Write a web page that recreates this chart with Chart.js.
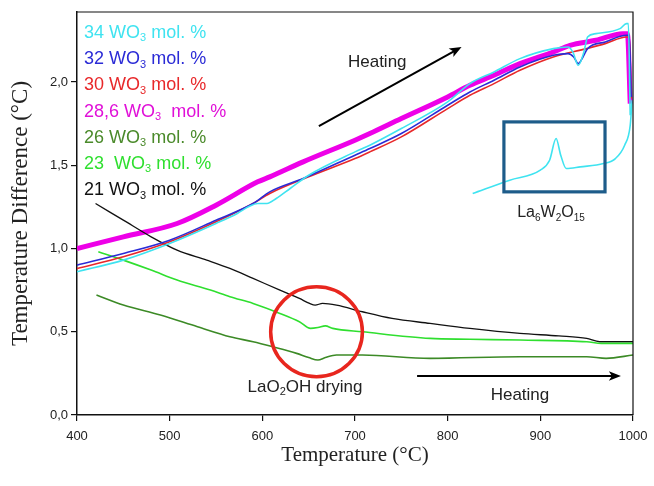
<!DOCTYPE html>
<html lang="en">
<head>
<meta charset="UTF-8">
<title>DTA curves - WO3 content</title>
<script src="https://cdn.jsdelivr.net/npm/chart.js"></script>
<style>
  html, body { margin: 0; padding: 0; background: #fff; }
</style>
</head>
<body>
<canvas id="dta" width="654" height="486"></canvas>
<script>
// --- data (temperature in °C, difference in °C) ---
const t34 = [400, 450, 500, 550, 573, 585, 595, 605, 615, 630, 650, 700, 716, 750, 800, 824, 850, 878, 914, 930, 935, 941, 947, 951, 960, 986, 993, 995, 997];
const v34 = [0.86, 0.93, 1.03, 1.15, 1.21, 1.25, 1.27, 1.27, 1.30, 1.36, 1.44, 1.58, 1.62, 1.72, 1.88, 1.99, 2.06, 2.14, 2.20, 2.21, 2.18, 2.10, 2.18, 2.27, 2.29, 2.32, 2.35, 2.35, 1.80];

const t32 = [400, 450, 500, 550, 590, 608, 644, 700, 716, 750, 800, 824, 850, 878, 914, 930, 936, 941, 946, 951, 970, 993, 996, 998];
const v32 = [0.90, 0.97, 1.05, 1.17, 1.27, 1.34, 1.42, 1.56, 1.60, 1.69, 1.86, 1.94, 2.01, 2.09, 2.16, 2.17, 2.15, 2.11, 2.15, 2.20, 2.24, 2.28, 2.28, 1.91];

const t30 = [400, 450, 500, 550, 590, 608, 650, 700, 716, 750, 800, 824, 850, 878, 914, 950, 970, 993, 996, 998];
const v30 = [0.88, 0.95, 1.04, 1.16, 1.27, 1.33, 1.43, 1.54, 1.58, 1.67, 1.84, 1.92, 1.99, 2.07, 2.15, 2.20, 2.23, 2.27, 2.27, 1.90];

const t286 = [400, 450, 508, 550, 595, 608, 644, 700, 716, 750, 800, 824, 850, 878, 914, 932, 960, 989, 994, 997];
const v286 = [1.00, 1.07, 1.15, 1.26, 1.40, 1.43, 1.52, 1.65, 1.69, 1.78, 1.91, 1.98, 2.04, 2.11, 2.18, 2.22, 2.25, 2.29, 2.29, 1.87];

const t26 = [421, 450, 490, 530, 565, 590, 611, 637, 650, 660, 668, 680, 708, 781, 878, 950, 971, 1000];
const v26 = [0.72, 0.66, 0.60, 0.53, 0.47, 0.44, 0.41, 0.37, 0.345, 0.33, 0.345, 0.36, 0.36, 0.34, 0.35, 0.35, 0.34, 0.36];

const t23 = [423, 450, 480, 508, 544, 565, 590, 619, 640, 652, 660, 668, 676, 708, 781, 824, 878, 950, 966, 1000];
const v23 = [0.98, 0.93, 0.87, 0.81, 0.75, 0.71, 0.67, 0.61, 0.56, 0.52, 0.525, 0.535, 0.52, 0.50, 0.46, 0.455, 0.45, 0.44, 0.43, 0.43];

const t21 = [420, 450, 480, 508, 540, 565, 590, 619, 640, 651, 657, 665, 680, 708, 740, 781, 824, 878, 920, 950, 964, 980, 1000];
const v21 = [1.27, 1.17, 1.07, 0.99, 0.93, 0.88, 0.82, 0.75, 0.70, 0.67, 0.66, 0.67, 0.66, 0.62, 0.58, 0.55, 0.52, 0.49, 0.475, 0.46, 0.44, 0.44, 0.44];

// enlarged La6W2O15 trace (cyan, near the box)
const tInset = [827, 867, 900, 910, 917, 922, 928, 943, 968, 981, 991, 997, 999];
const vInset = [1.33, 1.41, 1.47, 1.53, 1.66, 1.56, 1.48, 1.49, 1.51, 1.54, 1.62, 1.74, 1.89];

const seriesNames = ['34', '32', '30', '28,6', '26', '23 ', '21'];
const seriesColors = ['#3fe3f0', '#2b2bd6', '#e8282a', '#ee00e8', '#3c8a26', '#2fdf2f', '#111111'];
const legendColors = ['#3fe3f0', '#2b2bd6', '#e8282a', '#e010d8', '#4a8a2a', '#2fdf2f', '#111111'];

const xTicks = [400, 500, 600, 700, 800, 900, 1000];
const yMax = 2.42;

const SANS = "'Liberation Sans', Arial, sans-serif";
const SERIF = "'Liberation Serif', 'Times New Roman', serif";

const pts = (ts, vs) => ts.map((t, i) => ({ x: t, y: vs[i] }));

function line(label, data, color, width, order) {
  return {
    label, data, borderColor: color, backgroundColor: color,
    borderWidth: width, pointRadius: 0, fill: false,
    cubicInterpolationMode: 'monotone', order
  };
}

// draw text with subscripts: parts = [[text, isSub], ...]
function richText(ctx, parts, x, y, size, align) {
  const subSize = Math.round(size * 0.62);
  let total = 0;
  parts.forEach(([s, sub]) => {
    ctx.font = (sub ? subSize : size) + 'px ' + SANS;
    total += ctx.measureText(s).width;
  });
  let cx = align === 'center' ? x - total / 2 : x;
  ctx.textAlign = 'left';
  ctx.textBaseline = 'middle';
  parts.forEach(([s, sub]) => {
    ctx.font = (sub ? subSize : size) + 'px ' + SANS;
    ctx.fillText(s, cx, sub ? y + size * 0.3 : y);
    cx += ctx.measureText(s).width;
  });
}

function arrow(ctx, x1, y1, x2, y2, head) {
  const a = Math.atan2(y2 - y1, x2 - x1);
  ctx.beginPath();
  ctx.moveTo(x1, y1);
  ctx.lineTo(x2 - Math.cos(a) * head * 0.6, y2 - Math.sin(a) * head * 0.6);
  ctx.stroke();
  ctx.beginPath();
  ctx.moveTo(x2, y2);
  ctx.lineTo(x2 - head * Math.cos(a - 0.38), y2 - head * Math.sin(a - 0.38));
  ctx.lineTo(x2 - head * 0.7 * Math.cos(a), y2 - head * 0.7 * Math.sin(a));
  ctx.lineTo(x2 - head * Math.cos(a + 0.38), y2 - head * Math.sin(a + 0.38));
  ctx.closePath();
  ctx.fill();
}

const notes = {
  id: 'notes',
  afterDatasetsDraw(chart) {
    const { ctx, chartArea: a, scales: { x, y } } = chart;
    const X = v => x.getPixelForValue(v);
    const Y = v => y.getPixelForValue(v);
    ctx.save();

    // frame top + right
    ctx.strokeStyle = '#111';
    ctx.lineWidth = 1.2;
    ctx.beginPath();
    ctx.moveTo(a.left, a.top);
    ctx.lineTo(a.right, a.top);
    ctx.lineTo(a.right, a.bottom);
    ctx.stroke();

    // legend text
    seriesNames.forEach((n, i) => {
      ctx.fillStyle = legendColors[i];
      const gap = n === '28,6' ? '  mol. %' : ' mol. %';
      richText(ctx, [[n + ' WO', false], ['3', true], [gap, false]], a.left + 7, a.top + 21 + i * 26.2, 18, 'left');
    });

    // heating arrows
    ctx.strokeStyle = '#000';
    ctx.fillStyle = '#000';
    ctx.lineWidth = 2;
    arrow(ctx, X(661), Y(1.735), X(815), Y(2.21), 13);
    arrow(ctx, X(767), Y(0.234), X(987), Y(0.234), 13);
    ctx.fillStyle = '#222';
    richText(ctx, [['Heating', false]], X(724), Y(2.12), 17, 'center');
    richText(ctx, [['Heating', false]], X(878), Y(0.12), 17, 'center');

    // LaO2OH drying ellipse
    ctx.strokeStyle = '#e8261e';
    ctx.lineWidth = 3.5;
    ctx.beginPath();
    const ex = X(658.5), ey = Y(0.5);
    ctx.ellipse(ex, ey, Math.abs(X(658.5 + 49.5) - ex), Math.abs(Y(0.5 + 0.27) - ey), 0, 0, Math.PI * 2);
    ctx.stroke();
    ctx.fillStyle = '#222';
    richText(ctx, [['LaO', false], ['2', true], ['OH drying', false]], X(646), Y(0.168), 17, 'center');

    // La6W2O15 box
    ctx.strokeStyle = '#1d5c8a';
    ctx.lineWidth = 3.2;
    ctx.strokeRect(X(860.7), Y(1.76), X(969.8) - X(860.7), Y(1.34) - Y(1.76));
    ctx.fillStyle = '#222';
    richText(ctx, [['La', false], ['6', true], ['W', false], ['2', true], ['O', false], ['15', true]], X(911.5), Y(1.213), 16, 'center');

    ctx.restore();
  }
};

new Chart(document.getElementById('dta'), {
  type: 'line',
  data: {
    datasets: [
      line('34 WO3 mol. %', pts(t34, v34), seriesColors[0], 1.6, 1),
      line('32 WO3 mol. %', pts(t32, v32), seriesColors[1], 1.6, 2),
      line('30 WO3 mol. %', pts(t30, v30), seriesColors[2], 1.6, 3),
      line('28,6 WO3 mol. %', pts(t286, v286), seriesColors[3], 5, 10),
      line('26 WO3 mol. %', pts(t26, v26), seriesColors[4], 1.6, 4),
      line('23 WO3 mol. %', pts(t23, v23), seriesColors[5], 1.6, 5),
      line('21 WO3 mol. %', pts(t21, v21), seriesColors[6], 1.3, 6),
      line('inset', pts(tInset, vInset), seriesColors[0], 1.6, 0)
    ]
  },
  options: {
    responsive: false,
    animation: false,
    events: [],
    layout: { padding: { top: 12, right: 21, left: 0, bottom: 0 } },
    plugins: { legend: { display: false }, tooltip: { enabled: false } },
    scales: {
      x: {
        type: 'linear', min: 400, max: 1000,
        afterFit(s) { s.height = 71; s.paddingRight = 0; },
        afterBuildTicks(s) { s.ticks = xTicks.map(v => ({ value: v })); },
        border: { color: '#111', width: 1.5 },
        grid: { drawOnChartArea: false, tickLength: 6, color: '#111', lineWidth: 1.2 },
        ticks: { padding: 8, color: '#222', font: { family: SANS, size: 13 },
                 callback: v => String(v) },
        title: { display: true, text: 'Temperature (°C)', color: '#222',
                 font: { family: SERIF, size: 21 }, padding: { bottom: 18 } }
      },
      y: {
        min: 0, max: yMax,
        afterFit(s) { s.width = 77; },
        border: { color: '#111', width: 1.5 },
        grid: { drawOnChartArea: false, tickLength: 6, color: '#111', lineWidth: 1.2 },
        ticks: { stepSize: 0.5, includeBounds: false, padding: 3, color: '#222',
                 font: { family: SANS, size: 13 },
                 callback: v => v.toFixed(1).replace('.', ',') },
        title: { display: true, text: 'Temperature Difference (°C)', color: '#222',
                 font: { family: SERIF, size: 23 }, padding: { top: 7 } }
      }
    }
  },
  plugins: [notes]
});
</script>
</body>
</html>
